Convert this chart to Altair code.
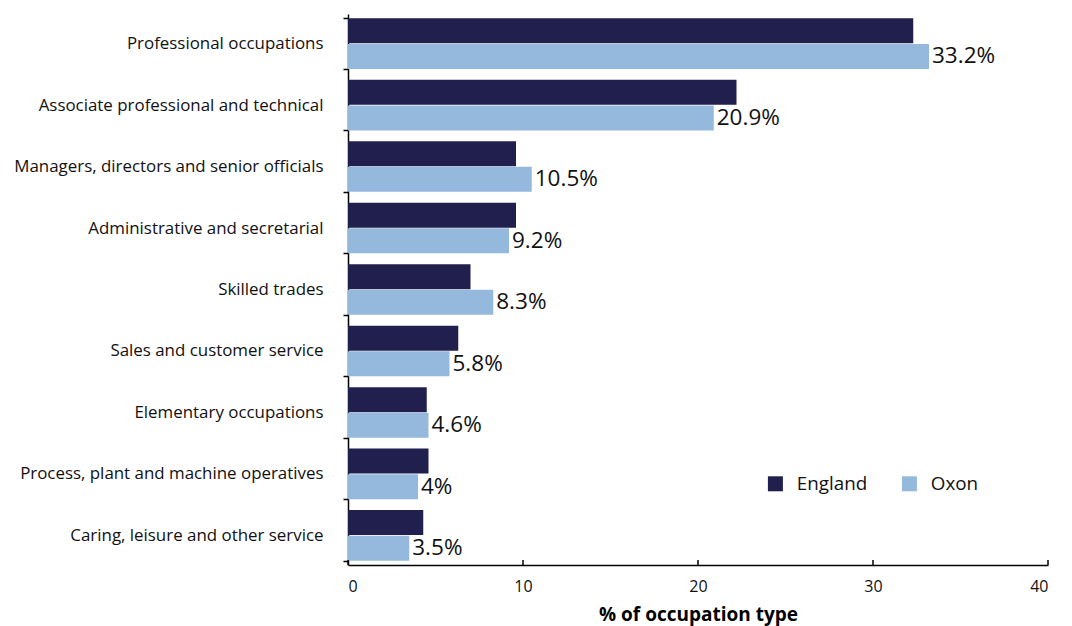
import altair as alt
import pandas as pd

categories = [
    "Professional occupations",
    "Associate professional and technical",
    "Managers, directors and senior officials",
    "Administrative and secretarial",
    "Skilled trades",
    "Sales and customer service",
    "Elementary occupations",
    "Process, plant and machine operatives",
    "Caring, leisure and other service",
]
england = [32.3, 22.2, 9.6, 9.6, 7.0, 6.3, 4.5, 4.6, 4.3]
oxon = [33.2, 20.9, 10.5, 9.2, 8.3, 5.8, 4.6, 4.0, 3.5]
series = ["England", "Oxon"]
colors = ["#211f4e", "#95b9dc"]
x_ticks = [0, 10, 20, 30, 40]

rows = []
for c, e, o in zip(categories, england, oxon):
    rows.append({"cat": c, "series": "England", "value": e, "label": ""})
    rows.append({"cat": c, "series": "Oxon", "value": o, "label": f"{o:g}%"})
df = pd.DataFrame(rows)
ticks_df = pd.DataFrame({"t": x_ticks})

FONT = "Open Sans"
H = 551

y_enc = alt.Y(
    "cat:N",
    sort=categories,
    scale=alt.Scale(paddingInner=0.18, paddingOuter=0.07),
    axis=alt.Axis(
        title=None,
        tickBand="extent",
        labelFontSize=16.9,
        labelColor="#111",
        labelFont=FONT,
        labelPadding=20,
        tickSize=5,
        tickColor="#000",
        domainColor="#000",
        tickWidth=1.5,
        domainWidth=1.5,
        labelLimit=400,
    ),
)
x_enc = alt.X(
    "value:Q",
    scale=alt.Scale(domain=[0, 40]),
    axis=alt.Axis(
        title="% of occupation type",
        titleFont=FONT,
        titleFontSize=19,
        titleFontWeight="bold",
        titleColor="#000",
        titlePadding=11,
        values=x_ticks,
        labelFontSize=16,
        labelFont=FONT,
        labelColor="#111",
        labelPadding=13,
        grid=False,
        ticks=False,
        domainColor="#000",
        domainWidth=1.5,
    ),
)

bars = alt.Chart(df).mark_bar(size=25).encode(
    y=y_enc,
    x=x_enc,
    yOffset=alt.YOffset("series:N", sort=series, scale=alt.Scale(paddingInner=0.04)),
    color=alt.Color(
        "series:N",
        sort=series,
        scale=alt.Scale(domain=series, range=colors),
        legend=alt.Legend(
            title=None,
            orient="none",
            legendX=418,
            legendY=460,
            direction="horizontal",
            symbolType="square",
            symbolSize=225,
            symbolStrokeWidth=0,
            labelFontSize=18.8,
            labelFont=FONT,
            labelColor="#111",
            labelOffset=12,
            columnPadding=32,
        ),
    ),
)

texts = alt.Chart(df).transform_filter(alt.datum.series == "Oxon").mark_text(
    align="left", baseline="middle", dx=3, fontSize=22.5, font=FONT, color="#111"
).encode(
    y=alt.Y("cat:N", sort=categories),
    x="value:Q",
    yOffset=alt.YOffset("series:N", sort=series),
    text="label:N",
)

xticks = alt.Chart(ticks_df).mark_rule(color="#000", strokeWidth=1.5).encode(
    x=alt.X("t:Q"),
    y=alt.value(H - 5),
    y2=alt.value(H),
)

chart = (
    alt.layer(bars, texts, xticks)
    .properties(width=700, height=H, padding={"top": -3, "left": 5, "right": 5, "bottom": 5})
    .configure_view(stroke=None)
)

chart.save("out.html", embed_options={"renderer": "svg", "actions": False})
